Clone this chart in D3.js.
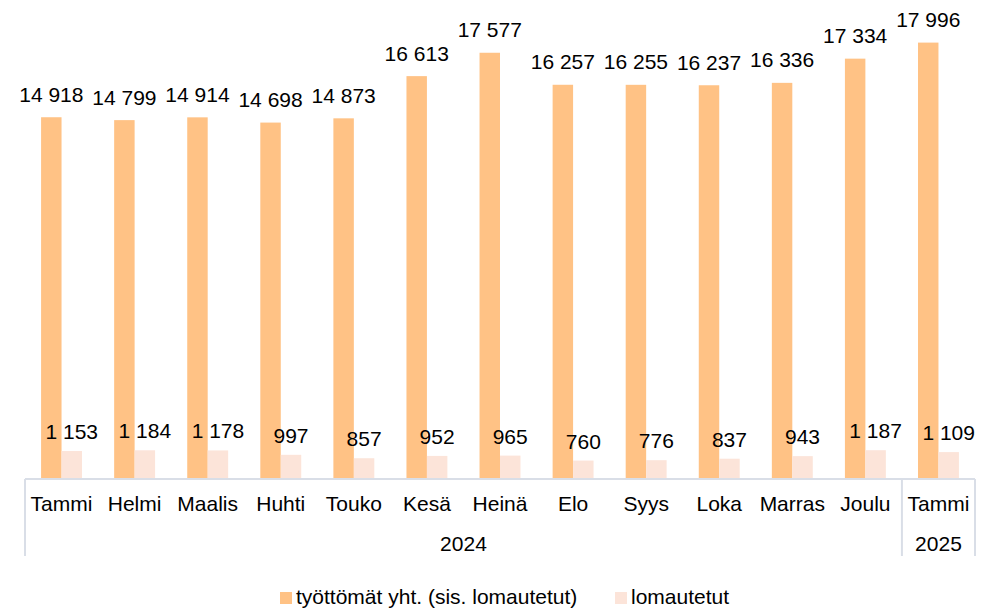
<!DOCTYPE html>
<html>
<head>
<meta charset="utf-8">
<script src="https://cdn.jsdelivr.net/npm/d3@7"></script>
<style>
  body { margin: 0; background: #fff; }
  svg text { font-family: "Liberation Sans", Arial, sans-serif; fill: #000; }
</style>
</head>
<body>
<div class="visual"></div>
<script>
const months = ["Tammi", "Helmi", "Maalis", "Huhti", "Touko", "Kesä", "Heinä", "Elo", "Syys", "Loka", "Marras", "Joulu", "Tammi"];
const years = [{ label: "2024", from: 0, to: 11 }, { label: "2025", from: 12, to: 12 }];
const seriesNames = ["työttömät yht. (sis. lomautetut)", "lomautetut"];
const totalValues = [14918, 14799, 14914, 14698, 14873, 16613, 17577, 16257, 16255, 16237, 16336, 17334, 17996];
const laidOffValues = [1153, 1184, 1178, 997, 857, 952, 965, 760, 776, 837, 943, 1187, 1109];
const colors = ["#FFC285", "#FCE4D9"];

const width = 982, height = 608;
const left = 25, right = 975, baseY = 479;
const labelGap = [15.5, 12];

const fmt = v => d3.format(",")(v).replace(/,/g, " ");

const svg = d3.select(".visual").append("svg")
  .attr("width", width)
  .attr("height", height);

const x0 = d3.scaleBand()
  .domain(d3.range(months.length))
  .range([left, right])
  .paddingInner(0.44)
  .paddingOuter(0.22);

const x1 = d3.scaleBand()
  .domain([0, 1])
  .range([0, x0.bandwidth()]);

const y = d3.scaleLinear()
  .domain([0, 20000])
  .range([baseY, -6]);

const data = months.map((m, i) => ({ i, values: [totalValues[i], laidOffValues[i]] }));

const groups = svg.append("g").selectAll("g")
  .data(data)
  .enter()
  .append("g")
  .attr("transform", d => `translate(${x0(d.i)},0)`);

groups.selectAll("rect")
  .data(d => d.values.map((v, k) => ({ v, k })))
  .enter()
  .append("rect")
  .attr("x", d => x1(d.k))
  .attr("y", d => y(d.v))
  .attr("width", x1.bandwidth())
  .attr("height", d => baseY - y(d.v))
  .attr("fill", d => colors[d.k]);

groups.selectAll("text")
  .data(d => d.values.map((v, k) => ({ v, k })))
  .enter()
  .append("text")
  .attr("x", d => x1(d.k) + x1.bandwidth() / 2)
  .attr("y", d => y(d.v) - labelGap[d.k])
  .attr("text-anchor", "middle")
  .style("font-size", "21px")
  .text(d => fmt(d.v));

// category axis with year grouping
const axis = svg.append("g");
const lineColor = "#D9DEE7";
const step = x0.step();
const edge = i => left + i * step;

axis.append("line")
  .attr("x1", left).attr("x2", right)
  .attr("y1", baseY).attr("y2", baseY)
  .attr("stroke", lineColor).attr("stroke-width", 2);

const seps = [0, years[1].from, months.length];
axis.selectAll(".sep")
  .data(seps)
  .enter()
  .append("line")
  .attr("x1", d => edge(d)).attr("x2", d => edge(d))
  .attr("y1", baseY).attr("y2", 556)
  .attr("stroke", lineColor).attr("stroke-width", 2);

axis.selectAll(".cat")
  .data(months)
  .enter()
  .append("text")
  .attr("x", (d, i) => x0(i) + x0.bandwidth() / 2)
  .attr("y", 511)
  .attr("text-anchor", "middle")
  .style("font-size", "21px")
  .text(d => d);

axis.selectAll(".year")
  .data(years)
  .enter()
  .append("text")
  .attr("x", d => (edge(d.from) + edge(d.to + 1)) / 2)
  .attr("y", 551)
  .attr("text-anchor", "middle")
  .style("font-size", "21px")
  .text(d => d.label);

// legend
const legendX = [280, 615];
const legend = svg.append("g").selectAll("g")
  .data(seriesNames)
  .enter()
  .append("g")
  .attr("transform", (d, i) => `translate(${legendX[i]},592)`);

legend.append("rect")
  .attr("width", 12).attr("height", 12)
  .attr("fill", (d, i) => colors[i]);

legend.append("text")
  .attr("x", 16)
  .attr("y", 12)
  .style("font-size", "21px")
  .text(d => d);
</script>
</body>
</html>
